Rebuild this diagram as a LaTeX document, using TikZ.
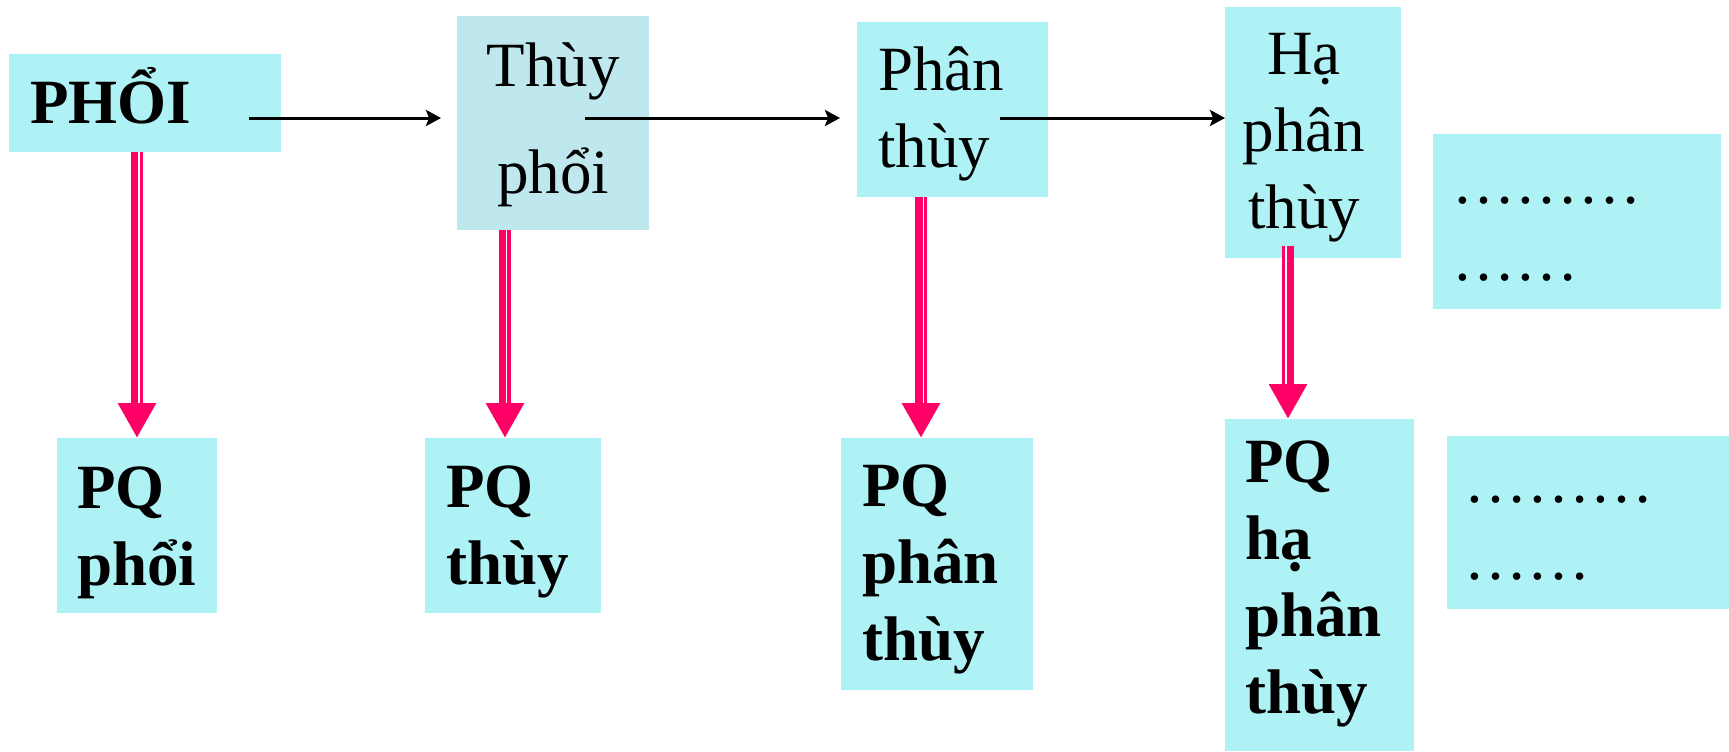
\documentclass[tikz,border=0pt]{standalone}
\usepackage{fontspec}
\setmainfont{Liberation Serif}
\usetikzlibrary{arrows.meta}
\definecolor{cyanbox}{HTML}{AFF2F5}
\definecolor{greybox}{HTML}{BEE8EE}
\definecolor{rose}{HTML}{FF0066}

\tikzset{
  box/.style={fill=cyanbox, inner sep=0pt, outer sep=0pt, anchor=north west},
  txt/.style={inner sep=0pt, font=\fontsize{31.5}{38.5}\selectfont, align=left, anchor=base west},
  ctxt/.style={inner sep=0pt, font=\fontsize{31.5}{38.5}\selectfont, align=center, anchor=base},
  btxt/.style={txt, font=\fontsize{31.5}{38.5}\selectfont\bfseries},
  flow/.style={line width=1.5pt, -{Stealth[length=7.5pt,width=8pt,inset=1.5pt]}},
  down/.style={draw=rose, line width=6pt, -{Triangle[length=17.5pt,width=18pt]}},
  gap/.style={draw=white, line width=0.6pt},
}

\begin{document}
\begin{tikzpicture}[x=0.5pt,y=-0.5pt]
\useasboundingbox (0,0) rectangle (1729,751);

% upper row
\node[box, minimum width=136pt, minimum height=49pt] (phoi) at (9,54) {};
\node[box, fill=greybox, minimum width=96pt, minimum height=107pt] (thuy) at (457,16) {};
\node[box, minimum width=95.5pt, minimum height=87.5pt] (phan) at (857,22) {};
\node[box, minimum width=88pt, minimum height=125.5pt] (ha) at (1225,7) {};
\node[box, minimum width=144pt, minimum height=87.5pt] (more1) at (1433,134) {};

% lower row
\node[box, minimum width=80pt, minimum height=87.5pt] (pqphoi) at (57,438) {};
\node[box, minimum width=88pt, minimum height=87.5pt] (pqthuy) at (425,438) {};
\node[box, minimum width=96pt, minimum height=126pt] (pqphan) at (841,438) {};
\node[box, minimum width=94.5pt, minimum height=166pt] (pqha) at (1225,419) {};
\node[box, minimum width=141.5pt, minimum height=86.5pt] (more2) at (1447,436) {};

% labels (multi-line labels are placed by their last baseline)
\node[btxt] (t-phoi) at (30,123) {PHỔI};
\node[ctxt] (t-thuy) at (553,193) {Thùy\\[15pt]phổi};
\node[txt] (t-phan) at (878,167) {Phân\\thùy};
\node[ctxt] (t-ha) at (1304,228) {Hạ\\phân\\thùy};
\node[txt] (t-more1) at (1452,280) {………\\……};
\node[btxt] (t-pqphoi) at (77,585) {PQ\\phổi};
\node[btxt] (t-pqthuy) at (446,584) {PQ\\thùy};
\node[btxt] (t-pqphan) at (862,660) {PQ\\phân\\thùy};
\node[btxt] (t-pqha) at (1245,713) {PQ\\hạ\\phân\\thùy};
\node[txt] (t-more2) at (1464,579) {………\\……};

% horizontal chain
\coordinate (s1) at (249,118);
\coordinate (s2) at (585,118);
\coordinate (s3) at (1000,118);
\draw[flow, shorten >=8pt] (s1) -- (s1 -| thuy.west);
\draw[flow, shorten >=8.5pt] (s2) -- (s2 -| phan.west);
\draw[flow] (s3) -- (s3 -| ha.west);

% vertical arrows
\coordinate (ax1) at (137,0);
\coordinate (ax2) at (505,0);
\coordinate (ax3) at (921,0);
\coordinate (ax4) at (1288,0);
\coordinate (g1) at (139,0);
\coordinate (g2) at (506.5,0);
\coordinate (g3) at (923.5,0);
\coordinate (g4) at (1286,0);
\draw[down] (phoi.south -| ax1) -- (pqphoi.north -| ax1);
\draw[down] (thuy.south -| ax2) -- (pqthuy.north -| ax2);
\draw[down] (phan.south -| ax3) -- (pqphan.north -| ax3);
\draw[down, shorten <=-6pt] (ha.south -| ax4) -- (pqha.north -| ax4);
\draw[gap, shorten >=17.5pt] (phoi.south -| g1) -- (pqphoi.north -| g1);
\draw[gap, shorten >=17.5pt] (thuy.south -| g2) -- (pqthuy.north -| g2);
\draw[gap, shorten >=17.5pt] (phan.south -| g3) -- (pqphan.north -| g3);
\draw[gap, shorten <=-6pt, shorten >=17.5pt] (ha.south -| g4) -- (pqha.north -| g4);
\end{tikzpicture}
\end{document}
